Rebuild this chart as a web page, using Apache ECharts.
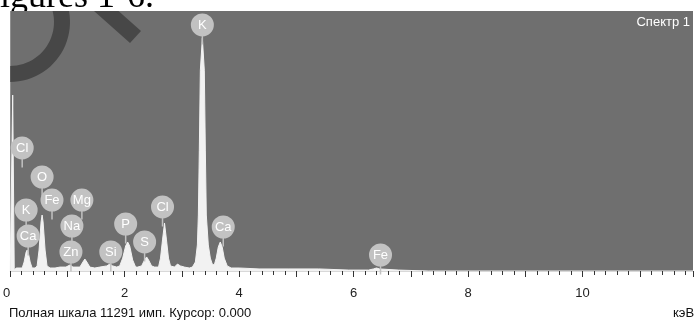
<!DOCTYPE html>
<html>
<head>
<meta charset="utf-8">
<script src="https://cdn.jsdelivr.net/npm/echarts@6/dist/echarts.min.js"></script>
<style>
  html, body { margin: 0; padding: 0; background: #fff; }
  #main { width: 696px; height: 323px; }
</style>
</head>
<body>
<div id="main"></div>
<script>
// spectrum, keV vs counts
var energy = [0, 0.026, 0.043, 0.07, 0.104, 0.209, 0.243, 0.278, 0.296, 0.313, 0.348, 0.383, 0.435,
  0.47, 0.504, 0.539, 0.557, 0.574, 0.609, 0.643, 0.696, 0.783, 0.87, 0.974, 1.043, 1.096,
  1.217, 1.27, 1.304, 1.339, 1.391, 1.478, 1.565, 1.687, 1.739, 1.791, 1.861, 1.913, 1.965,
  2.017, 2.052, 2.087, 2.139, 2.191, 2.226, 2.296, 2.348, 2.383, 2.417, 2.47, 2.522, 2.591,
  2.626, 2.661, 2.696, 2.73, 2.765, 2.8, 2.87, 2.922, 2.974, 3.043, 3.13, 3.183, 3.235, 3.27,
  3.287, 3.304, 3.322, 3.357, 3.391, 3.409, 3.426, 3.461, 3.496, 3.53, 3.565, 3.6, 3.635,
  3.67, 3.704, 3.739, 3.791, 3.861, 4.0, 4.348, 4.87, 5.391, 5.913, 6.261, 6.348, 6.4, 6.452,
  6.783, 7.304, 11.93];
var counts = [0, 0, 7640, 40, 130, 130, 390, 820, 910, 820, 390, 130, 130,
  220, 910, 2130, 2430, 2130, 910, 220, 130, 130, 170, 170, 260, 170,
  170, 390, 520, 390, 170, 130, 170, 220, 300, 220, 170, 220, 560,
  1090, 1260, 1090, 480, 170, 170, 220, 480, 610, 480, 220, 170, 170,
  560, 1350, 2080, 1350, 560, 220, 170, 300, 220, 170, 130, 170, 390, 1130,
  2430, 5250, 8720, 10110, 8720, 5250, 2430, 1130, 560, 300, 260, 560, 1040,
  1260, 1040, 560, 220, 130, 130, 90, 90, 90, 40, 40, 90, 130, 90,
  40, 0, 0];

// element markers (centre of each circle)
var markNames = ['Cl', 'O', 'K', 'Fe', 'Mg', 'Na', 'Ca', 'Zn', 'Si', 'P', 'S', 'Cl', 'K', 'Ca', 'Fe'];
var markEnergy = [0.209, 0.557, 0.278, 0.730, 1.252, 1.078, 0.313, 1.061, 1.757, 2.017, 2.348, 2.661, 3.357, 3.722, 6.470];
var markCounts = [5342, 4082, 2649, 3083, 3083, 1954, 1520, 825, 825, 2041, 1260, 2780, 10684, 1911, 695];

var fullScale = 11291;
var xMax = 11.93;

var chart = echarts.init(document.getElementById('main'));

var spectrum = energy.map(function (e, i) { return [e, counts[i]]; });
var marks = markNames.map(function (n, i) { return { name: n, value: [markEnergy[i], markCounts[i]] }; });

var pin = 'path://M0 11.5 A11.5 11.5 0 1 1 23 11.5 A11.5 11.5 0 1 1 0 11.5 Z M10.75 22 L12.25 22 L12.25 31 L10.75 31 Z';

// watermark ring, cut to the picture (x >= 10, y >= 11)
function ringPiece(cx, cy, r, r0, top) {
  var pts = [];
  var a0 = Math.asin((top - cy) / r), a1 = Math.asin((top - cy) / r0);
  var i, a;
  for (i = 0; i <= 24; i++) {
    a = a0 + (Math.PI / 2 - a0) * i / 24;
    pts.push([cx + r * Math.cos(a), cy + r * Math.sin(a)]);
  }
  for (i = 24; i >= 0; i--) {
    a = a1 + (Math.PI / 2 - a1) * i / 24;
    pts.push([cx + r0 * Math.cos(a), cy + r0 * Math.sin(a)]);
  }
  return pts;
}

var option = {
  animation: false,
  backgroundColor: '#fff',
  grid: {
    left: 10, right: 0, top: 11, bottom: 52, z: 1,
    show: true, backgroundColor: '#6f6f6f', borderWidth: 0
  },
  xAxis: {
    type: 'value',
    z: 3,
    min: 0,
    max: xMax,
    interval: 1,
    axisLine: { show: true, lineStyle: { color: '#d8d8d8', width: 1 } },
    axisTick: { show: true, length: 6, lineStyle: { color: '#333' } },
    minorTick: { show: true, splitNumber: 5, length: 4, lineStyle: { color: '#333' } },
    splitLine: { show: false },
    axisLabel: {
      color: '#222', fontSize: 13, fontFamily: 'Liberation Sans', margin: 16,
      alignMinLabel: 'right',
      formatter: function (v) { return (Math.abs(v % 2) < 1e-9) ? String(v) : ''; }
    }
  },
  yAxis: {
    type: 'value', min: 0, max: fullScale, show: false
  },
  graphic: [
    {
      type: 'text', left: 0, top: -20, z: 0,
      style: { text: 'igures 1-6.', font: '36px "Liberation Serif"', fill: '#000' }
    },
    {
      type: 'polygon', z: 3,
      shape: { points: ringPiece(10, 22, 60, 44, 11) },
      style: { fill: 'rgba(0,0,0,0.36)' }
    },
    {
      type: 'polygon', z: 3,
      shape: { points: [[94, 11], [118.5, 11], [141, 31], [130, 43]] },
      style: { fill: 'rgba(0,0,0,0.36)' }
    },
    {
      type: 'text', right: 6, top: 16, z: 10,
      style: { text: 'Спектр 1', font: '13px "Liberation Sans"', fill: '#fff' }
    },
    {
      type: 'text', left: 9, top: 307, z: 10,
      style: { text: 'Полная шкала 11291 имп. Курсор: 0.000', font: '13px "Liberation Sans"', fill: '#111' }
    },
    {
      type: 'text', left: 673, top: 307, z: 10,
      style: { text: 'кэВ', font: '13px "Liberation Sans"', fill: '#111' }
    }
  ],
  series: [
    {
      type: 'line',
      data: spectrum,
      symbol: 'none',
      lineStyle: { color: '#f2f2f2', width: 1 },
      areaStyle: { color: '#f2f2f2', opacity: 1 },
      z: 2
    },
    {
      type: 'scatter',
      data: marks,
      symbol: pin,
      symbolSize: [23, 31],
      symbolOffset: [0, 4],
      itemStyle: { color: '#c2c2c2', opacity: 1 },
      label: {
        show: true, position: 'inside', offset: [0, -4],
        formatter: '{b}', color: '#fff', fontSize: 13, fontFamily: 'Liberation Sans'
      },
      z: 5
    }
  ]
};

chart.setOption(option);
</script>
</body>
</html>
